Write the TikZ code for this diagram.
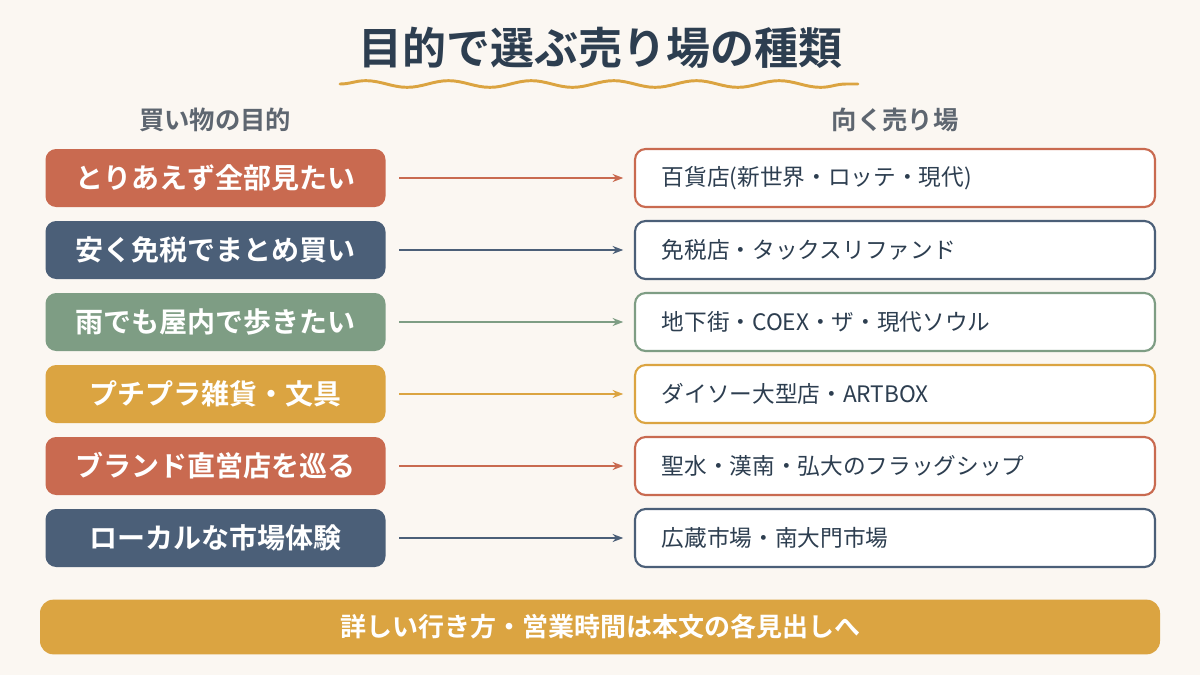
\documentclass[tikz,border=0pt]{standalone}
\usepackage{fontspec}
\setmainfont{Noto Sans CJK JP}[BoldFont=* Bold]
\usetikzlibrary{decorations.pathmorphing,arrows.meta}
\definecolor{bg}{HTML}{FBF7F2}
\definecolor{navy}{HTML}{2D3E50}
\definecolor{cRed}{HTML}{C96A50}
\definecolor{cNavy}{HTML}{4B5F78}
\definecolor{cGreen}{HTML}{7E9D84}
\definecolor{cGold}{HTML}{DBA441}
\definecolor{cGray}{HTML}{5E6670}
\begin{document}
\begin{tikzpicture}[x=0.75pt,y=-0.75pt,
  lbox/.style={rounded corners=8pt,minimum width=255pt,minimum height=43.5pt,inner sep=0pt,text=white,font=\fontsize{21}{24}\selectfont\bfseries},
  rbox/.style={draw=#1,line width=1.6pt,fill=white,rounded corners=8pt,minimum width=390pt,minimum height=43.5pt,inner sep=0pt},
  rtxt/.style={anchor=west,text=navy,font=\fontsize{17}{20}\selectfont},
  arr/.style={draw=#1,line width=1.3pt,-{Stealth[length=8pt,width=6pt]}},
  hdr/.style={text=cGray,font=\fontsize{19}{22}\selectfont\bfseries}]
\fill[bg] (0,0) rectangle (1200,675);
\useasboundingbox (0,0) rectangle (1200,675);
\node[text=navy,font=\fontsize{33}{38}\selectfont\bfseries] (title) at (600,48) {目的で選ぶ売り場の種類};
\coordinate (w1) at (340,84); \coordinate (w2) at (858,84);
\draw[cGold,line width=2.2pt,line cap=round,decorate,decoration={snake,amplitude=2.5pt,segment length=62pt}] (w1) -- (w2);
\node[hdr] (h1) at (215,120) {買い物の目的};
\node[hdr] (h2) at (895,120) {向く売り場};
\foreach \i/\y/\c/\l/\r in {
 1/178/cRed/とりあえず全部見たい/百貨店(新世界・ロッテ・現代),
 2/250/cNavy/安く免税でまとめ買い/免税店・タックスリファンド,
 3/322/cGreen/雨でも屋内で歩きたい/地下街・COEX・ザ・現代ソウル,
 4/394/cGold/プチプラ雑貨・文具/ダイソー大型店・ARTBOX,
 5/466/cRed/ブランド直営店を巡る/聖水・漢南・弘大のフラッグシップ,
 6/538/cNavy/ローカルな市場体験/広蔵市場・南大門市場}{
 \node[lbox,fill=\c] (L\i) at (215.5,\y) {\l};
 \node[rbox=\c] (R\i) at (895,\y) {};
 \node[rtxt] (T\i) at (657,\y) {\r};
 \draw[arr=\c] ([xshift=10pt]L\i.east) -- ([xshift=-8pt]R\i.west);
}
\node[fill=cGold,rounded corners=10pt,minimum width=840pt,minimum height=41pt,text=white,font=\fontsize{19.5}{23}\selectfont\bfseries] (foot) at (600,627) {詳しい行き方・営業時間は本文の各見出しへ};
\end{tikzpicture}
\end{document}
